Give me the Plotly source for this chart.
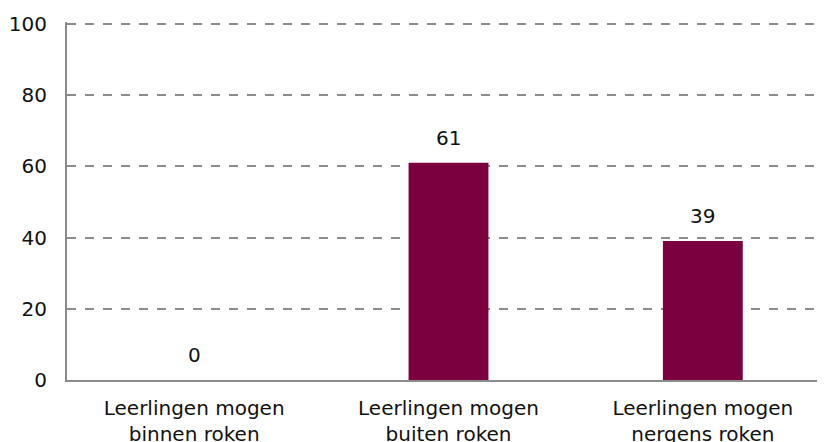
import plotly.graph_objects as go

categories = ["Leerlingen mogen<br>binnen roken", "Leerlingen mogen<br>buiten roken", "Leerlingen mogen<br>nergens roken"]
values = [0, 61, 39]
y_ticks = [0, 20, 40, 60, 80, 100]

bar_color = "#7B003F"
grid_color = "#8c8c8c"

fig = go.Figure()
fig.add_trace(go.Bar(
    x=categories,
    y=values,
    marker=dict(color=bar_color, line=dict(width=0)),
    width=0.314,
    showlegend=False,
))

# value labels above bars
for c, v in zip(categories, values):
    fig.add_annotation(x=c, y=v, text=str(v), showarrow=False,
                       yanchor="bottom", yshift=11,
                       font=dict(size=20, color="#111111"))

# page body has an 8px margin, so margins are offset to compensate
fig.update_layout(
    width=825,
    height=442,
    margin=dict(l=59, r=3, t=14, b=70),
    paper_bgcolor="white",
    plot_bgcolor="white",
    font=dict(family="DejaVu Sans", size=20, color="#111111"),
    xaxis=dict(
        range=[-0.5, 2.5],
        showgrid=False,
        showline=True,
        linecolor=grid_color,
        linewidth=2,
        ticks="",
        ticklabelstandoff=9,
        automargin=False,
        tickfont=dict(size=20),
    ),
    yaxis=dict(
        range=[0, 100.5],
        tickvals=y_ticks,
        showgrid=True,
        gridcolor=grid_color,
        griddash="dash",
        gridwidth=1.5,
        showline=True,
        linecolor=grid_color,
        linewidth=2,
        ticks="",
        ticklabelstandoff=14,
        zeroline=False,
        automargin=False,
        tickfont=dict(size=20),
    ),
)

fig.write_html("out.html")
